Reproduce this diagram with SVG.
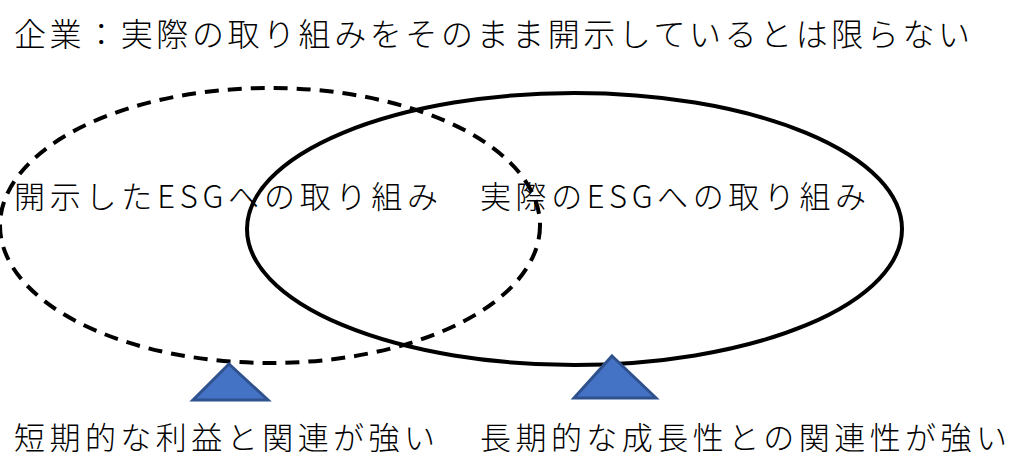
<svg xmlns="http://www.w3.org/2000/svg" width="1013" height="452" viewBox="0 0 1013 452">
<style>
text{font-family:"Noto Sans CJK JP","Noto Sans CJK SC",sans-serif;fill:#000;font-weight:300}
.t{font-size:32px}
.l{font-size:31px}
.ell{fill:none;stroke:#000;stroke-width:4}
.dash{stroke-dasharray:14 9}
.tri{fill:#4472C4;stroke:#2F528F;stroke-width:3;stroke-linejoin:miter}
</style>
<rect width="1013" height="452" fill="#fff"/>
<g id="title"><text class="t" x="14" y="46" textLength="956" lengthAdjust="spacing">企業：実際の取り組みをそのまま開示しているとは限らない</text></g>
<g id="disclosed">
<ellipse class="ell dash" cx="270" cy="225.5" rx="270" ry="137.5"/>
<text class="l" x="14" y="208" textLength="424" lengthAdjust="spacing">開示したESGへの取り組み</text>
</g>
<g id="actual">
<ellipse class="ell" cx="574.5" cy="229" rx="327.5" ry="136"/>
<text class="l" x="480" y="208" textLength="386" lengthAdjust="spacing">実際のESGへの取り組み</text>
</g>
<g id="short">
<polygon class="tri" points="229,364 268,400 193,400"/>
<text class="l" x="14" y="449" textLength="421" lengthAdjust="spacing">短期的な利益と関連が強い</text>
</g>
<g id="long">
<polygon class="tri" points="612,356 656,398 574,398"/>
<text class="l" x="480" y="449" textLength="527" lengthAdjust="spacing">長期的な成長性との関連性が強い</text>
</g>
<g id="connectors"></g>
</svg>
